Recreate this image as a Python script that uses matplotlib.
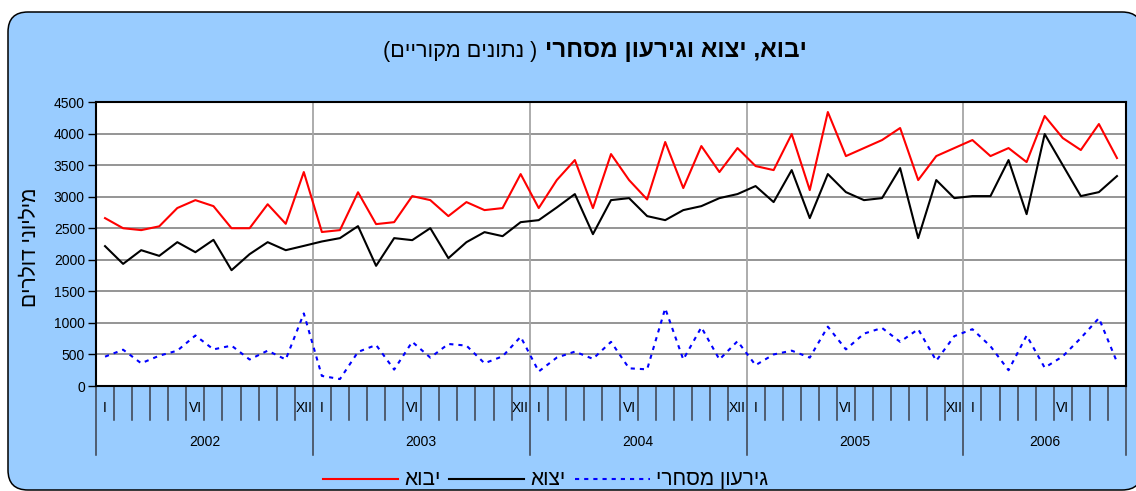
import numpy as np
import matplotlib.pyplot as plt
from matplotlib.patches import FancyBboxPatch
from matplotlib.lines import Line2D

plt.rcParams['font.family'] = ['Liberation Sans', 'DejaVu Sans']

# monthly values, Jan 2002 - Sep 2006, millions of dollars
imports = [2660, 2500, 2470, 2530, 2820, 2945, 2850, 2500, 2500, 2880, 2570, 3390,
           2440, 2470, 3070, 2565, 2596, 3009, 2945, 2692, 2914, 2787, 2819, 3358,
           2819, 3263, 3580, 2819, 3675, 3263, 2956, 3866, 3136, 3802, 3390, 3770,
           3485, 3421, 3992, 3104, 4341, 3643, 3770, 3897, 4088, 3263, 3643, 3770,
           3897, 3643, 3770, 3548, 4278, 3929, 3739, 4151, 3612]
exports = [2216, 1935, 2152, 2062, 2279, 2120, 2316, 1835, 2089, 2279, 2152, 2220,
           2290, 2343, 2533, 1904, 2343, 2311, 2501, 2025, 2279, 2438, 2374, 2596,
           2628, 2829, 3041, 2406, 2945, 2977, 2692, 2628, 2787, 2850, 2977, 3041,
           3168, 2914, 3421, 2660, 3358, 3072, 2945, 2977, 3453, 2343, 3263, 2977,
           3009, 3009, 3580, 2723, 3992, 3500, 3009, 3072, 3326]
deficit = [465, 575, 360, 480, 560, 800, 580, 640, 420, 560, 420, 1150,
           160, 110, 540, 650, 260, 700, 450, 666, 640, 360, 470, 780,
           230, 450, 545, 430, 700, 280, 264, 1230, 420, 930, 420, 710,
           330, 500, 560, 450, 940, 580, 830, 920, 700, 900, 400, 790,
           900, 630, 250, 800, 290, 470, 760, 1075, 380]
years = ['2002', '2003', '2004', '2005', '2006']
month_labels = ['I', '', '', '', '', 'VI', '', '', '', '', '', 'XII']

W, H = 1136, 491


def heb(s):
    # matplotlib has no bidi: reverse to visual order and mirror brackets
    return s[::-1].translate(str.maketrans('()', ')('))


fig = plt.figure(figsize=(W / 100, H / 100), dpi=100)
fig.patch.set_facecolor('white')

# rounded light-blue chart area
bg = FancyBboxPatch((0.08, 0.01), 11.34, 4.78, boxstyle='round,pad=0,rounding_size=0.2',
                    transform=fig.dpi_scale_trans, facecolor='#99CCFF',
                    edgecolor='black', linewidth=1.1, zorder=0)
fig.add_artist(bg)

ax = fig.add_axes([96 / W, 1 - 386 / H, 1030 / W, 284 / H])
ax.set_facecolor('white')
n = len(imports)
x = np.arange(n) + 0.5

ax.plot(x, imports, color='#FF0000', lw=1.5, zorder=3)
ax.plot(x, exports, color='black', lw=1.5, zorder=3)
ax.plot(x, deficit, color='#0000FF', lw=1.5, linestyle=(0, (2, 2.4)), zorder=3)

ax.set_xlim(0, n)
ax.set_ylim(0, 4500)
ax.set_yticks(range(0, 4501, 500))
ax.yaxis.grid(True, color='#8C8C8C', lw=1.3)
ax.set_axisbelow(True)
for b in range(12, n, 12):
    ax.axvline(b, color='#A6A6A6', lw=1.3, zorder=1)
for s in ax.spines.values():
    s.set_color('black')
    s.set_linewidth(1.5)
ax.tick_params(axis='y', direction='out', length=6, width=1, pad=2, labelsize=10)

# category axis: month ticks, month and year labels
ax.set_xticks([])
xt = ax.get_xaxis_transform()
for k in range(n + 1):
    low = -0.243 if (k % 12 == 0 or k == n) else -0.12
    ax.plot([k, k], [0, low], transform=xt, color='#3A3F4A', lw=1.1, clip_on=False)
for i in range(n):
    ax.text(i + 0.5, -0.078, month_labels[i % 12], transform=xt,
            ha='center', va='center', fontsize=10)
for j, yr in enumerate(years):
    end = min(12 * (j + 1), n)
    ax.text((12 * j + end) / 2, -0.197, yr, transform=xt,
            ha='center', va='center', fontsize=10)

# titles
fig.text(807 / W, 1 - 57 / H, heb('יבוא, יצוא וגירעון מסחרי'), ha='right',
         va='baseline', fontsize=17.5, fontweight='bold')
fig.text(537 / W, 1 - 57 / H, heb('( נתונים מקוריים)'), ha='right',
         va='baseline', fontsize=15.5)
fig.text(30 / W, 1 - 247 / H, heb('מיליוני דולרים'), rotation=90,
         ha='center', va='center', fontsize=15)

# legend
leg = [(323, '#FF0000', '-', 'יבוא'),
       (449, 'black', '-', 'יצוא'),
       (575, '#0000FF', (0, (2, 2.4)), 'גירעון מסחרי')]
ly = 1 - 479 / H
for x0, c, ls, lab in leg:
    fig.add_artist(Line2D([x0 / W, (x0 + 75) / W], [ly, ly], transform=fig.transFigure,
                          color=c, lw=1.5, linestyle=ls))
    fig.text((x0 + 81) / W, 1 - 485 / H, heb(lab), ha='left', va='baseline', fontsize=15)

fig.savefig('out.png', dpi=100, facecolor='white')
